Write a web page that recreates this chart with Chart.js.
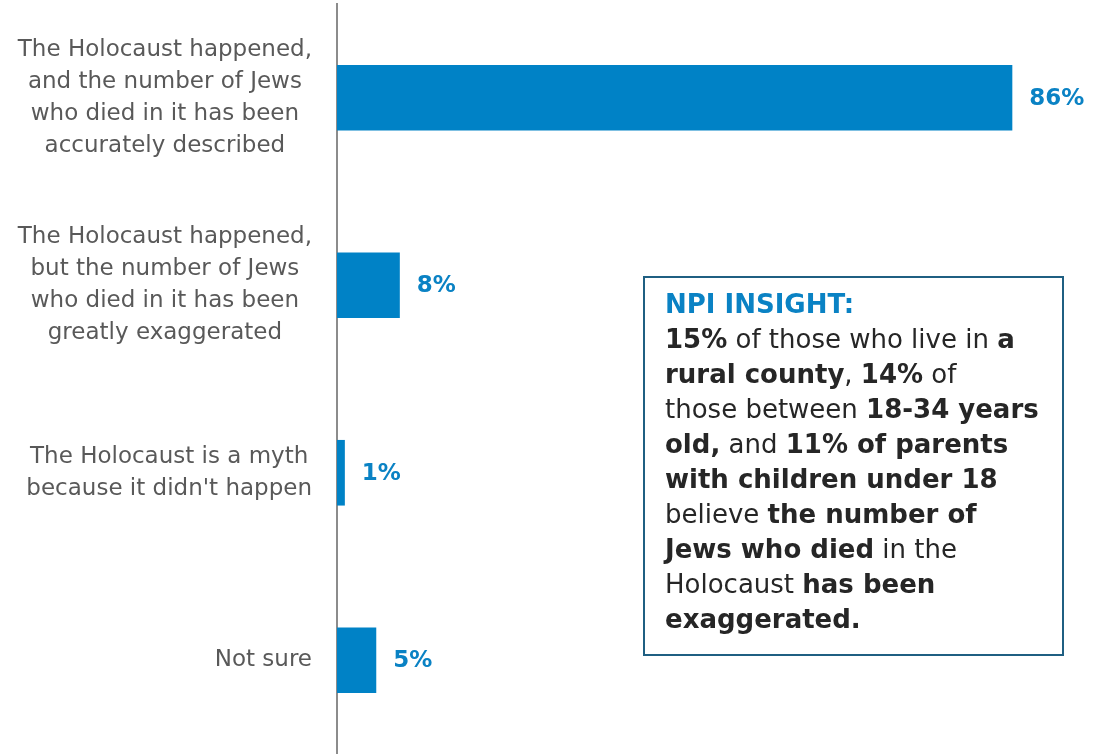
<!DOCTYPE html>
<html>
<head>
<meta charset="utf-8">
<script src="https://cdn.jsdelivr.net/npm/chart.js@4/dist/chart.umd.min.js"></script>
<style>
  html, body { margin: 0; padding: 0; background: #ffffff; }
  #wrap { position: relative; width: 1099px; height: 754px; }
</style>
</head>
<body>
<div id="wrap"><canvas id="chart"></canvas></div>
<script>
// Survey answers (each category label wrapped as drawn)
const categories = [
  ["The Holocaust happened,", "and the number of Jews", "who died in it has been", "accurately described"],
  ["The Holocaust happened,", "but the number of Jews", "who died in it has been", "greatly exaggerated"],
  ["The Holocaust is a myth", "because it didn't happen"],
  ["Not sure"]
];
// Share of respondents, percent
const shares = [86, 8, 1, 5];

// Insight box: each line is a list of [text, isBold] runs
const insightTitle = "NPI INSIGHT:";
const insightLines = [
  [["15%", true], [" of those who live in ", false], ["a", true]],
  [["rural county", true], [", ", false], ["14%", true], [" of", false]],
  [["those between ", false], ["18-34 years", true]],
  [["old,", true], [" and ", false], ["11% of parents", true]],
  [["with children under 18", true]],
  [["believe ", false], ["the number of", true]],
  [["Jews who died", true], [" in the", false]],
  [["Holocaust ", false], ["has been", true]],
  [["exaggerated.", true]]
];

const FONT = "'DejaVu Sans', Verdana, sans-serif";
const BLUE = "#0a82c4";

// Category labels: each block's lines are centred on each other,
// and the block as a whole sits flush against the axis.
const categoryLabels = {
  id: "categoryLabels",
  afterDraw(chart) {
    const ctx = chart.ctx;
    const yScale = chart.scales.y;
    const rightEdge = yScale.right - 25;
    const lh = 32;
    ctx.save();
    ctx.font = "23px " + FONT;
    ctx.fillStyle = "#595959";
    ctx.textAlign = "center";
    ctx.textBaseline = "middle";
    categories.forEach((lines, i) => {
      const widest = Math.max(...lines.map(t => ctx.measureText(t).width));
      const cx = rightEdge - widest / 2;
      const cy = yScale.getPixelForTick(i);
      const y0 = cy - (lines.length - 1) * lh / 2;
      lines.forEach((t, k) => ctx.fillText(t, cx, y0 + k * lh));
    });
    ctx.restore();
  }
};

const valueLabels = {
  id: "valueLabels",
  afterDatasetsDraw(chart) {
    const ctx = chart.ctx;
    const meta = chart.getDatasetMeta(0);
    ctx.save();
    ctx.font = "bold 23px " + FONT;
    ctx.fillStyle = BLUE;
    ctx.textAlign = "left";
    ctx.textBaseline = "middle";
    meta.data.forEach((bar, i) => {
      ctx.fillText(shares[i] + "%", bar.x + 17, bar.y + 1);
    });
    ctx.restore();
  }
};

const insightBox = {
  id: "insightBox",
  afterDraw(chart) {
    const ctx = chart.ctx;
    const left = 644, top = 277, right = 1063, bottom = 655;
    ctx.save();
    ctx.fillStyle = "#ffffff";
    ctx.fillRect(left, top, right - left, bottom - top);
    ctx.strokeStyle = "#1f5f82";
    ctx.lineWidth = 2;
    ctx.strokeRect(left, top, right - left, bottom - top);

    const x0 = 665;
    const lh = 35;
    let y = 306;
    ctx.textBaseline = "middle";
    ctx.textAlign = "left";
    ctx.font = "bold 26px " + FONT;
    ctx.fillStyle = BLUE;
    ctx.fillText(insightTitle, x0, y);
    ctx.fillStyle = "#262626";
    insightLines.forEach(line => {
      y += lh;
      let x = x0;
      line.forEach(([txt, bold]) => {
        ctx.font = (bold ? "bold " : "") + "26px " + FONT;
        ctx.fillText(txt, x, y);
        x += ctx.measureText(txt).width;
      });
    });
    ctx.restore();
  }
};

new Chart(document.getElementById("chart"), {
  type: "bar",
  data: {
    labels: categories,
    datasets: [{
      data: shares,
      backgroundColor: "#0082c6",
      borderWidth: 0,
      categoryPercentage: 1.0,
      barPercentage: 0.35
    }]
  },
  options: {
    indexAxis: "y",
    responsive: true,
    maintainAspectRatio: false,
    animation: false,
    layout: { padding: { top: 4, right: 16, bottom: 0, left: 0 } },
    plugins: { legend: { display: false }, tooltip: { enabled: false } },
    scales: {
      x: { display: false, min: 0, max: 95 },
      y: {
        afterFit(scale) {
          scale.width = 337;
          scale.paddingTop = 0;
          scale.paddingBottom = 0;
        },
        grid: { display: false, drawTicks: false },
        border: { display: true, color: "#8c8c8c", width: 2 },
        ticks: { display: false }
      }
    }
  },
  plugins: [categoryLabels, valueLabels, insightBox]
});
</script>
</body>
</html>
